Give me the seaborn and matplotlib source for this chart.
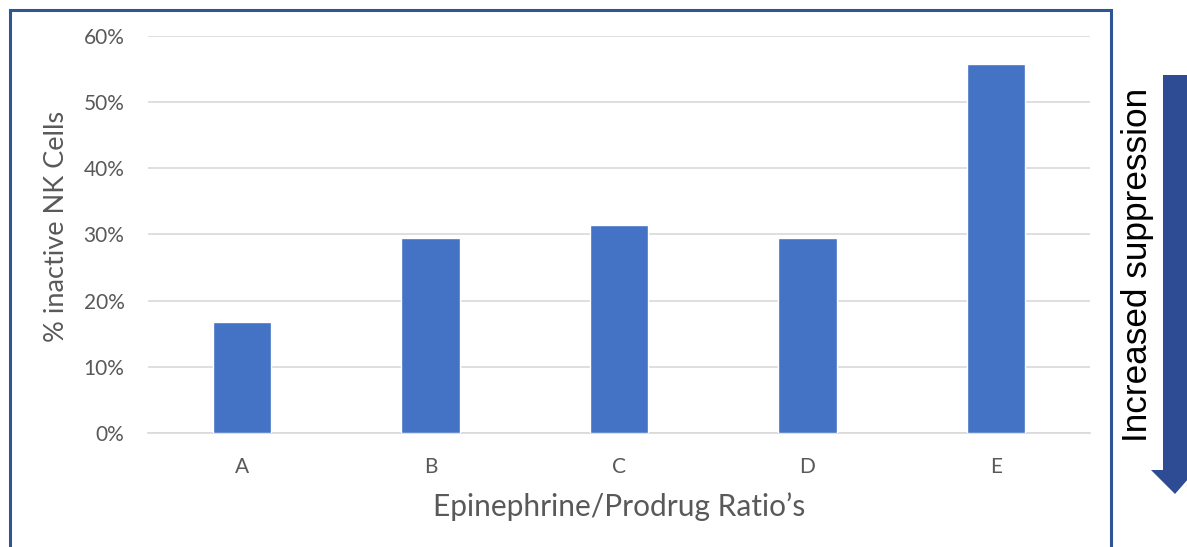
import matplotlib
matplotlib.use("Agg")
import matplotlib.pyplot as plt
from matplotlib.patches import Rectangle, Polygon
from matplotlib.ticker import PercentFormatter
import seaborn as sns
import pandas as pd

# Share of inactive NK cells per epinephrine/prodrug ratio
ratios = ["A", "B", "C", "D", "E"]
inactive_share = [0.168, 0.295, 0.315, 0.295, 0.557]

sns.set_theme(style="white")
plt.rcParams["font.family"] = ["Lato", "DejaVu Sans"]

W, H = 1187, 547
fig = plt.figure(figsize=(W / 100, H / 100), dpi=100)
fig.patch.set_facecolor("white")

ax = fig.add_axes([148 / W, 1 - 433 / H, (1090 - 148) / W, (433 - 36) / H])

df = pd.DataFrame({"ratio": ratios, "share": inactive_share})
sns.barplot(data=df, x="ratio", y="share", color="#4472C4", width=0.31,
            saturation=1, ax=ax, zorder=3)

ax.set_ylim(0, 0.6)
ax.set_yticks([0, 0.1, 0.2, 0.3, 0.4, 0.5, 0.6])
ax.yaxis.set_major_formatter(PercentFormatter(1.0, decimals=0))
ax.grid(axis="y", color="#D9D9D9", linewidth=1.2, zorder=0)
ax.grid(axis="x", visible=False)
for side in ["top", "right", "left"]:
    ax.spines[side].set_visible(False)
ax.spines["bottom"].set_color("#D9D9D9")
ax.spines["bottom"].set_linewidth(1.2)
ax.tick_params(axis="both", length=0, labelsize=15, colors="#595959")
ax.tick_params(axis="y", pad=17)
ax.tick_params(axis="x", pad=17)

ax.set_xlabel("Epinephrine/Prodrug Ratio\u2019s", fontsize=21.5, color="#595959")
ax.set_ylabel("% inactive NK Cells", fontsize=19.5, color="#595959")
ax.xaxis.label.set_va("center")
ax.yaxis.label.set_va("center")
ax.yaxis.label.set_ha("center")
ax.xaxis.set_label_coords(0.5, (433 - 507) / 397)
ax.yaxis.set_label_coords((57 - 148) / 942, (433 - 226) / 397)

# Outer chart frame
frame = Rectangle((10, -20), 1101, H - 10 + 20, transform=None, fill=False,
                  edgecolor="#2F5597", linewidth=2.2, clip_on=False)
fig.patches.append(frame)

# Downward arrow with caption
arrow = Polygon([(1163, H - 75), (1190, H - 75), (1190, H - 470), (1196, H - 470),
                 (1175, H - 494), (1151, H - 470), (1163, H - 470)],
                closed=True, transform=None, facecolor="#2E4C94", edgecolor="none")
fig.patches.append(arrow)
fig.text(1137 / W, 1 - 265 / H, "Increased suppression", rotation=90,
         ha="center", va="center", fontsize=25.3, color="black",
         family=["Liberation Sans", "DejaVu Sans"])

fig.savefig("out.png", dpi=100)
